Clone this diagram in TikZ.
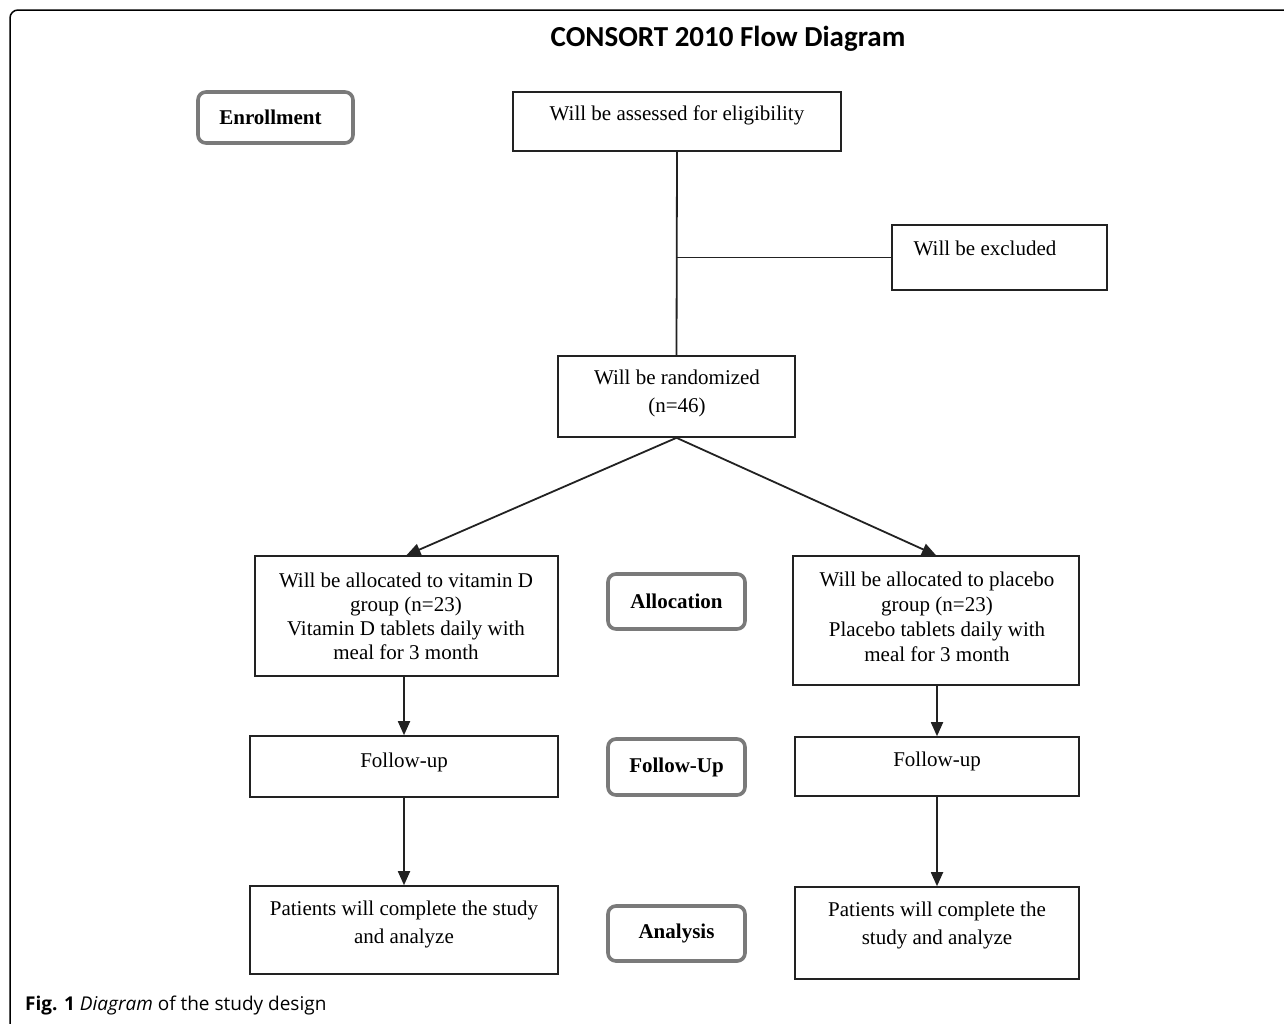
\documentclass[tikz,border=0pt]{standalone}
\usepackage{fontspec}
\setmainfont{Liberation Serif}
\newfontfamily\titlefont{Carlito}
\newfontfamily\capfont{Open Sans}
\usetikzlibrary{arrows.meta}
\definecolor{lblgray}{HTML}{7A7A7A}
\definecolor{linedark}{HTML}{222222}
\begin{document}
\begin{tikzpicture}[x=1pt,y=-1pt,
  box/.style={draw=linedark, line width=1.6pt, inner sep=0pt, fill=white},
  lbl/.style={draw=lblgray, line width=3.6pt, rounded corners=8pt, inner sep=0pt,
    minimum width=137pt, minimum height=55pt, font=\fontsize{21}{24}\selectfont\bfseries},
  txt/.style={inner sep=0pt, align=center, font=\fontsize{21}{24}\selectfont},
  conn/.style={draw=linedark, line width=1.8pt},
  arr/.style={conn, -{Triangle[length=14pt,width=12pt]}}]
\useasboundingbox (0,0) rectangle (1284,1023);
\fill[white] (0,0) rectangle (1284,1023);
% outer frame
\draw[line width=1.5pt, rounded corners=8pt] (10,1040) -- (10,10) -- (1300,10);
% title
\node[inner sep=0pt, font=\titlefont\fontsize{29}{32}\selectfont\bfseries] (title) at (728,39) {CONSORT 2010 Flow Diagram};
% stage labels
\node[lbl, minimum width=155pt, minimum height=51pt] (enroll) at (275.5,117.5) {\hspace*{-10pt}Enrollment};
\node[lbl] (allocLab) at (676.5,601.5) {Allocation};
\node[lbl, minimum height=56pt] (fuLab) at (676.5,767) {Follow-Up};
\node[lbl] (anLab) at (676.5,933.5) {Analysis};
% boxes
\node[box, minimum width=328pt, minimum height=59pt] (assess) at (677,121.5) {};
\node[box, minimum width=215pt, minimum height=65pt] (excl) at (999.5,257.5) {};
\node[box, minimum width=237pt, minimum height=81pt] (rand) at (676.5,396.5) {};
\node[box, minimum width=303pt, minimum height=120pt] (allocL) at (406.5,616) {};
\node[box, minimum width=286pt, minimum height=129pt] (allocR) at (936,620.5) {};
\node[box, minimum width=308pt, minimum height=61pt] (fuL) at (404,766.5) {};
\node[box, minimum width=284pt, minimum height=59pt] (fuR) at (937,766.5) {};
\node[box, minimum width=308pt, minimum height=88pt] (anL) at (404,930) {};
\node[box, minimum width=284pt, minimum height=92pt] (anR) at (937,933) {};
% texts
\node[txt] (tassess) at (677,115) {Will be assessed for eligibility};
\node[txt] (texcl) at (985,248) {Will be excluded};
\node[txt, font=\fontsize{21}{28}\selectfont] (trand) at (677,393) {Will be randomized\\(n=46)};
\node[txt] (tallocL) at (406,616) {Will be allocated to vitamin D\\group (n=23)\\Vitamin D tablets daily with\\meal for 3 month};
\node[txt, font=\fontsize{21}{25}\selectfont] (tallocR) at (937,617) {Will be allocated to placebo\\group (n=23)\\Placebo tablets daily with\\meal for 3 month};
\node[txt] (tfuL) at (404,762) {Follow-up};
\node[txt] (tfuR) at (937,761) {Follow-up};
\node[txt, font=\fontsize{21}{28}\selectfont] (tanL) at (404,924) {Patients will complete the study\\and analyze};
\node[txt, font=\fontsize{21}{28}\selectfont] (tanR) at (937,925) {Patients will complete the\\study and analyze};
% connectors
\draw[conn] (assess.south) -- (rand.north);
\draw[conn] (assess.south |- excl.west) -- (excl.west);
\draw[arr] (rand.south) -- (allocL.north);
\draw[arr] (rand.south) -- (allocR.north);
\draw[arr] (allocL.south -| fuL.north) -- (fuL.north);
\draw[arr] (fuL.south) -- (anL.north);
\draw[arr] (allocR.south -| fuR.north) -- (fuR.north);
\draw[arr] (fuR.south) -- (anR.north);
% caption
\node[inner sep=0pt, anchor=west, font=\capfont\fontsize{19}{21}\selectfont] (caption) at (25,1005) {\textbf{Fig. 1} \textit{Diagram} of the study design};
\end{tikzpicture}
\end{document}
